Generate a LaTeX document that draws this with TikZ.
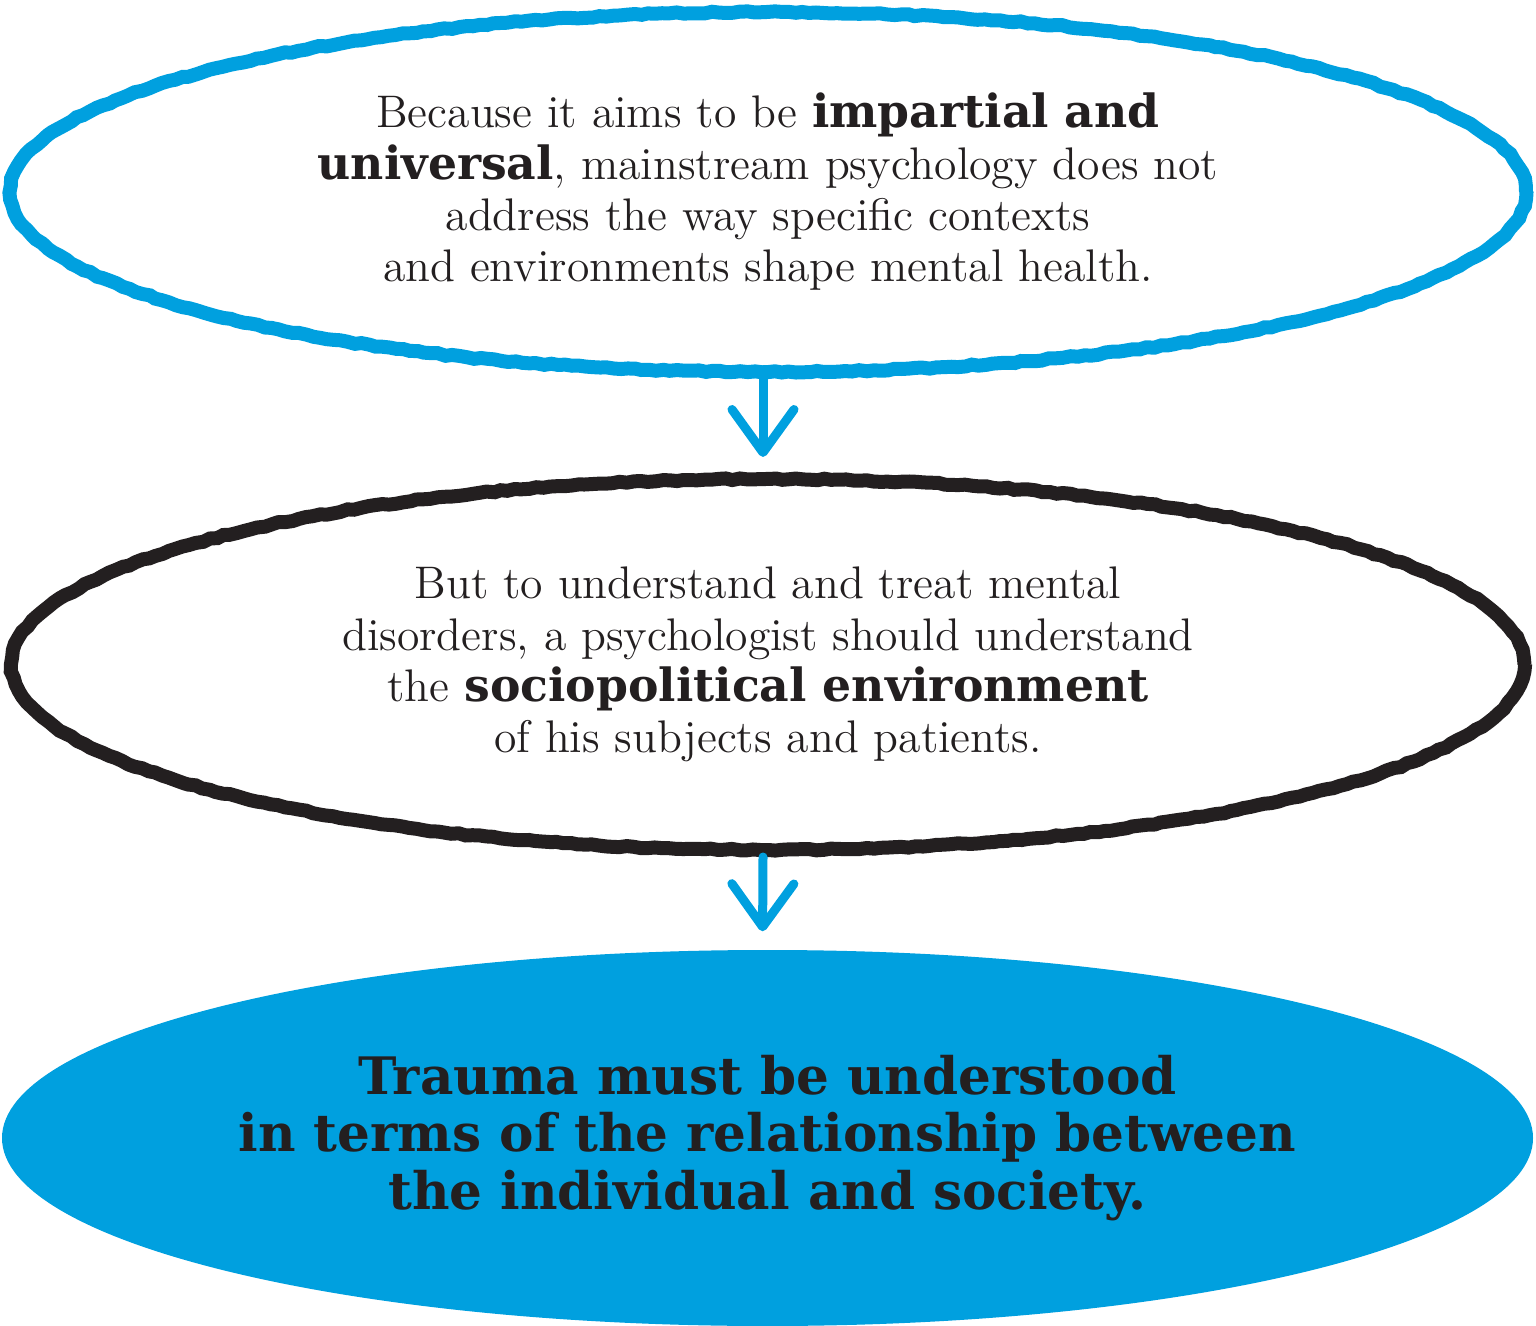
\documentclass[tikz,border=0pt]{standalone}
\usepackage{fontspec}
\newfontfamily\slabfont{DejaVu Serif}
\usepackage{tikz}
\usetikzlibrary{positioning,arrows.meta,shapes.geometric,decorations.pathmorphing}
\definecolor{cyanblue}{RGB}{0,160,223}
\definecolor{inkblack}{RGB}{35,31,32}
\newcommand{\hl}[1]{{\slabfont\bfseries #1}}

\begin{document}
\begin{tikzpicture}[
    font=\fontsize{13}{14.6}\selectfont,
    rough/.style={decorate, decoration={random steps, segment length=2pt, amplitude=0.25pt}},
    claim/.style={ellipse, draw=cyanblue, line width=0.14cm, rough, inner sep=0pt, minimum width=15.16cm, minimum height=3.6cm, align=center, text=inkblack},
    premise/.style={ellipse, draw=inkblack, line width=0.14cm, rough, inner sep=0pt, minimum width=15.13cm, minimum height=3.71cm, align=center, text=inkblack},
    verdict/.style={ellipse, fill=cyanblue, inner sep=0pt, minimum width=15.31cm, minimum height=3.76cm, align=center, text=inkblack, font=\slabfont\bfseries\fontsize{14.7}{16.3}\selectfont},
    arr/.style={-{Straight Barb[length=0.43cm, width=0.62cm, line cap=round, line join=round]}, line width=0.09cm, cyanblue, line cap=round},
  ]
  \useasboundingbox (0,0) rectangle (15.36,-13.26);
  \node[claim] (aim) at (7.68,-1.92) {
    Because it aims to be \hl{impartial and}\\
    \hl{universal}, mainstream psychology does not\\
    address the way specific contexts\\
    and environments shape mental health.
  };
  \node[premise] (context) at (7.68,-6.645) {
    But to understand and treat mental\\
    disorders, a psychologist should understand\\
    the \hl{sociopolitical environment}\\
    of his subjects and patients.
  };
  \node[verdict] (trauma) at (7.675,-11.38) {
    Trauma must be understood\\
    in terms of the relationship between\\
    the individual and society.
  };
  \draw[arr, shorten >=0.15cm] ([xshift=-0.05cm]aim.south) -- ([xshift=-0.05cm]context.north);
  \draw[arr, shorten >=0.18cm] ([xshift=-0.05cm]context.south) -- ([xshift=-0.05cm]trauma.north);
\end{tikzpicture}
\end{document}
